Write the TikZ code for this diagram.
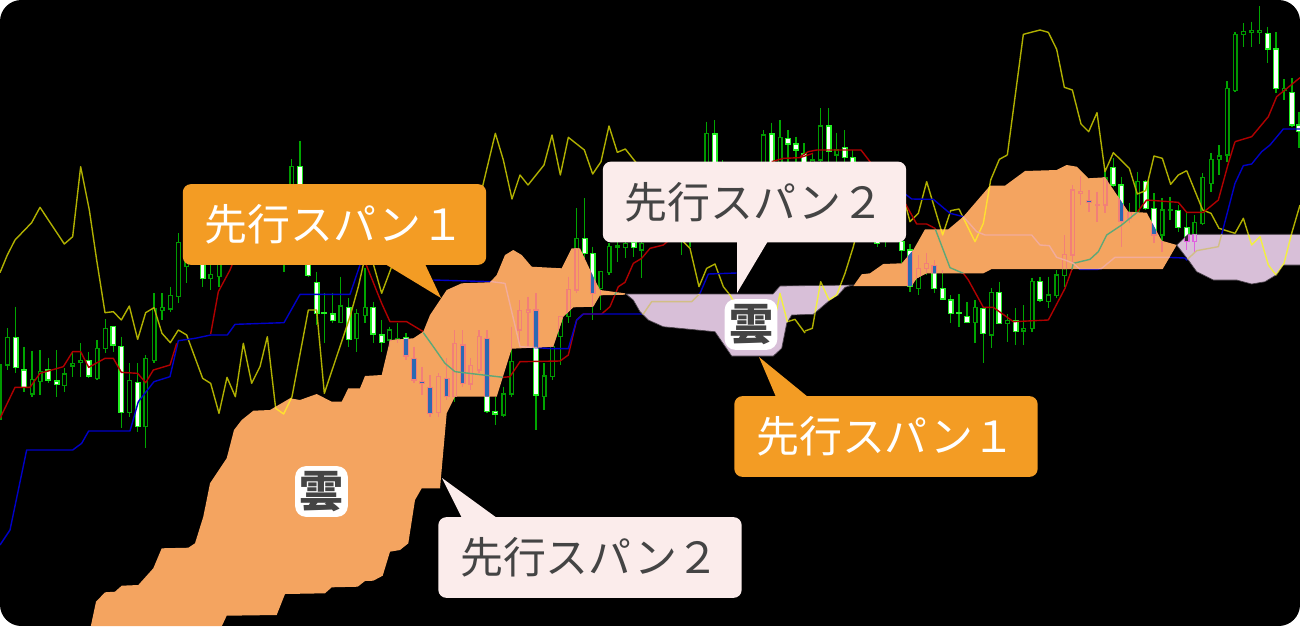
\documentclass[tikz,border=0pt]{standalone}
\usepackage{fontspec}
\newfontfamily\jp{Noto Sans CJK JP}
\definecolor{cloudO}{HTML}{F4A460}
\definecolor{cloudL}{HTML}{D8BFD8}
\definecolor{labO}{HTML}{F39C24}
\definecolor{labP}{HTML}{FBECEB}
\definecolor{ink}{HTML}{444444}
\colorlet{cWick}{green!65!black}
\colorlet{cHol}{green!60!black}
\colorlet{cHolF}{black}
\definecolor{cWhiO}{HTML}{22EE22}
\colorlet{cWhiF}{white}
\definecolor{cRed}{HTML}{B00000}
\definecolor{cBlue}{HTML}{0000C8}
\definecolor{cYel}{HTML}{B0B000}
\newcommand\hc[5]{\draw[cWick,line width=1pt] (#1,#2)--(#1,#5);\draw[cHol,fill=cHolF,line width=1pt] (#1-5.5,#3) rectangle (#1+5.5,#4);}
\newcommand\wc[5]{\draw[cWick,line width=1pt] (#1,#2)--(#1,#5);\draw[cWhiO,fill=cWhiF,line width=.9pt] (#1-7,#3) rectangle (#1+7,#4);}
\tikzset{
 zA/.style={shift={(0,130)},x=.25pt,y=-.25pt},
 zB/.style={shift={(380,120)},x=.25pt,y=-.25pt},
 zC/.style={shift={(800,100)},x=.25pt,y=-.25pt},
 zD/.style={shift={(1000,0)},x=.25pt,y=-.25pt},
 yl/.style={cYel,line width=1.05pt,line join=round},
 rl/.style={cRed,line width=1.05pt,line join=round},
 bl/.style={cBlue,line width=1.05pt,line join=round},
 calloutO/.style={fill=labO,rounded corners=6pt,text=white,minimum width=227.5pt,minimum height=60.5pt,inner sep=0pt,font=\jp\fontsize{32.2}{32.2}\selectfont},
 calloutP/.style={fill=labP,rounded corners=6pt,text=ink,minimum width=227.5pt,minimum height=60.5pt,inner sep=0pt,font=\jp\fontsize{32.2}{32.2}\selectfont},
 kumo/.style={fill=white,rounded corners=8pt,text=ink,minimum width=39.5pt,minimum height=38pt,inner sep=0pt,font=\jp\bfseries\fontsize{33}{33}\selectfont},
}
\newcommand\orangeshape{(90,630)--(96,601.7)--(105,592.3)--(115,591.7)--(121.7,585.7)--(138.3,585)--(153.3,568.3)--(161.7,548.3)--(188.3,547.7)--(195,543.3)--(203.3,516.7)--(210,483.3)--(226.7,458.3)--(234,430)--(241.7,420)--(253.3,410.7)--(270,410)--(290,398.3)--(300,400)--(316.7,394)--(331.7,401.7)--(341.7,401.7)--(348.3,388.3)--(360,388.3)--(365,376)--(381.7,375)--(390,340)--(413.3,338.3)--(423.3,331.7)--(430,315)--(446.7,290)--(461.7,283.3)--(490,282.3)--(496.7,275)--(505,255)--(513.3,250)--(521.7,255)--(531.7,266.7)--(561.7,268.3)--(571.7,248.3)--(580,248.3)--(593.3,276.7)--(600,290)--(625,293.3)--(625,294.7)--(600,295.3)--(593.3,306.7)--(573.3,307.3)--(563.3,316.7)--(553.3,346.7)--(511.7,348.7)--(496.7,396.7)--(455,396.7)--(446.7,413.3)--(440,488.3)--(421.7,488.3)--(415,500)--(408.3,543.3)--(400,550)--(390,551.7)--(382.7,575.7)--(373.3,580.7)--(365,581)--(357.7,586.7)--(331.7,587.3)--(325,593.3)--(285,594)--(276.7,615)--(226.7,615.7)--(220,630)--cycle
(853.3,286)--(861.7,274.3)--(870,273.3)--(883.3,264)--(901.7,263.3)--(913.3,250)--(925,229.3)--(948.3,229.3)--(963.3,216.7)--(990,185.7)--(1005,185.7)--(1025,171)--(1056.7,170)--(1066.7,165)--(1076.7,166.7)--(1088.3,178.3)--(1105,177.3)--(1128.3,211.7)--(1146.7,212.7)--(1161.7,240.7)--(1176.7,245)--(1162.7,269)--(991.7,269)--(983.3,273.3)--(926.7,273.3)--(916.7,278.3)--(911.7,286)--cycle}
\newcommand\lavshape{(626,294)--(773,294)--(780,286)--(853,285)--(845,287.3)--(838.3,295)--(830,300)--(813.3,314.3)--(791.7,315)--(786.7,323.3)--(781.7,348.3)--(773.3,356)--(731.7,356)--(715,331.7)--(663.3,326.7)--(648.3,320)--(640,311.7)--(633.3,300)--cycle
(1176.7,245)--(1188.3,234.3)--(1310,234.3)--(1310,265)--(1283.3,265)--(1276,275)--(1265,281.7)--(1251.7,284)--(1236.7,280)--(1213.3,280)--(1196.7,271.7)--(1188.3,260)--cycle}
\newcommand\candles{%
\begin{scope}[zA]
\hc{-2}{680}{705}{868}{880}\hc{22}{595}{622}{705}{720}\wc{47}{530}{622}{712}{730}\wc{72}{650}{720}{772}{785}\hc{96}{662}{748}{792}{800}\hc{120}{660}{724}{755}{795}\wc{145}{683}{720}{750}{760}\wc{170}{660}{753}{763}{800}\hc{193}{715}{732}{766}{785}\hc{218}{670}{700}{708}{740}\hc{242}{640}{692}{698}{740}\wc{266}{665}{692}{738}{745}\hc{291}{630}{655}{745}{750}\hc{316}{568}{595}{655}{670}\wc{340}{590}{590}{645}{665}\wc{364}{620}{650}{848}{895}\hc{388}{700}{752}{848}{860}\wc{413}{700}{757}{890}{905}\hc{437}{675}{685}{890}{955}\hc{462}{490}{535}{692}{700}\hc{486}{490}{533}{542}{570}\hc{511}{470}{497}{537}{545}\hc{535}{310}{337}{500}{520}\hc{560}{345}{360}{410}{460}\wc{608}{300}{320}{445}{470}\hc{632}{300}{433}{445}{480}\hc{657}{300}{340}{440}{470}\hc{875}{88}{110}{300}{320}\wc{900}{32}{110}{300}{320}\hc{852}{300}{320}{380}{425}\wc{925}{300}{320}{437}{440}\wc{950}{425}{457}{550}{585}\wc{973}{490}{547}{550}{640}\wc{998}{490}{552}{572}{580}\hc{1022}{440}{528}{578}{580}\wc{1046}{505}{532}{628}{650}\hc{1070}{538}{550}{625}{665}\hc{1095}{415}{532}{557}{580}\wc{1120}{515}{532}{612}{640}\wc{1145}{570}{615}{637}{665}\hc{1168}{590}{600}{630}{650}\hc{1192}{580}{625}{628}{640}
\end{scope}
\begin{scope}[zB]
\wc{78}{640}{652}{708}{720}\wc{102}{680}{715}{780}{790}\wc{126}{740}{785}{791}{825}\wc{150}{765}{803}{880}{890}\hc{175}{760}{770}{878}{890}\wc{200}{715}{775}{830}{840}\hc{224}{630}{670}{830}{845}\wc{248}{630}{675}{790}{800}\hc{272}{715}{737}{792}{810}\hc{297}{630}{650}{750}{760}\wc{321}{630}{655}{875}{880}\wc{346}{830}{875}{882}{915}\hc{371}{800}{822}{885}{890}\hc{395}{620}{725}{822}{830}\hc{419}{540}{572}{630}{670}\hc{444}{530}{570}{578}{680}\wc{468}{520}{570}{825}{930}\hc{492}{730}{768}{830}{870}\hc{517}{680}{680}{770}{780}\hc{541}{590}{590}{650}{735}\hc{566}{470}{508}{590}{610}\hc{590}{265}{355}{510}{520}\wc{614}{235}{355}{400}{420}\wc{638}{380}{400}{520}{600}\hc{662}{455}{455}{505}{570}\hc{687}{370}{380}{458}{465}\hc{712}{340}{378}{382}{425}\hc{736}{340}{370}{382}{415}\wc{761}{340}{368}{382}{410}\hc{785}{340}{370}{390}{475}\hc{905}{340}{345}{352}{405}\hc{930}{340}{345}{352}{380}\hc{980}{5}{40}{200}{220}\wc{1004}{0}{42}{200}{220}\hc{1028}{120}{160}{200}{220}\hc{1150}{30}{45}{200}{220}\wc{1175}{8}{42}{200}{220}\hc{1200}{0}{52}{200}{220}\wc{1224}{30}{55}{72}{200}\wc{1248}{50}{72}{90}{200}
\end{scope}
\begin{scope}[zC]
\wc{12}{130}{160}{190}{220}\hc{37}{160}{180}{200}{220}\hc{61}{25}{78}{180}{200}\wc{86}{25}{78}{155}{200}\hc{110}{98}{150}{165}{200}\wc{134}{90}{142}{172}{200}\wc{158}{150}{172}{200}{220}\wc{232}{400}{410}{430}{440}\hc{256}{400}{410}{420}{440}\wc{305}{380}{425}{452}{490}\wc{330}{432}{450}{560}{575}\hc{355}{465}{505}{565}{585}\hc{379}{460}{490}{505}{525}\wc{403}{480}{497}{565}{580}\wc{428}{510}{565}{597}{600}\wc{452}{585}{600}{640}{670}\wc{477}{582}{637}{640}{680}\wc{501}{607}{650}{667}{670}\hc{525}{600}{622}{668}{730}\wc{550}{622}{625}{700}{790}\hc{574}{565}{578}{705}{745}\wc{598}{545}{578}{670}{672}\hc{622}{643}{662}{670}{725}\wc{647}{625}{663}{695}{735}\hc{671}{615}{685}{693}{735}\hc{696}{535}{545}{685}{695}\wc{720}{530}{545}{600}{605}\hc{745}{530}{585}{605}{625}\hc{770}{510}{525}{587}{595}\hc{793}{405}{463}{527}{560}\hc{818}{255}{270}{465}{510}\hc{842}{228}{275}{280}{315}\wc{867}{270}{302}{308}{335}\hc{891}{275}{313}{316}{365}\hc{915}{205}{232}{315}{340}\wc{940}{175}{203}{255}{260}\wc{964}{230}{255}{365}{440}\hc{989}{310}{338}{355}{370}\hc{1013}{215}{245}{335}{340}\wc{1037}{240}{245}{325}{330}\wc{1062}{280}{325}{405}{430}\hc{1086}{295}{330}{405}{455}\hc{1110}{290}{328}{332}{360}\wc{1135}{315}{332}{383}{395}\wc{1160}{335}{382}{425}{450}\hc{1184}{345}{367}{425}{460}\hc{1208}{220}{232}{370}{375}\hc{1233}{160}{178}{250}{275}\hc{1257}{135}{168}{178}{225}
\end{scope}
\begin{scope}[zD]
\hc{681}{243}{265}{465}{485}\hc{705}{97}{103}{272}{275}\hc{730}{70}{95}{103}{140}\hc{755}{65}{92}{98}{140}\hc{779}{18}{92}{97}{133}\wc{803}{80}{100}{147}{190}\wc{828}{97}{147}{265}{280}\hc{852}{237}{265}{272}{300}\wc{876}{235}{278}{375}{380}\wc{897}{335}{375}{395}{445}
\end{scope}}
\newcommand\tracelines{%
\begin{scope}[zA]
\draw[yl] (0,428)--(22,375)--(45,330)--(95,278)--(120,232)--(193,342)--(218,320)--(242,110)--(268,240)--(290,390)--(315,548)--(340,545)--(364,570)--(388,528)--(413,628)--(437,548)--(462,533)--(486,610)--(511,638)--(535,600)--(560,615)--(608,745)--(632,760)--(657,850)--(681,742)--(706,800)--(730,640)--(755,760)--(780,710)--(802,620)--(827,835)--(851,852)--(876,800)--(925,540)--(950,540)--(973,790)--(1050,560)--(1075,470)--(1092,395);
\draw[yl] (1118,395)--(1145,490)--(1175,410);
\draw[bl] (0,1245)--(30,1200)--(80,960)--(218,960)--(245,940)--(266,903)--(390,903)--(415,815)--(462,755)--(510,740)--(535,632)--(585,625)--(632,615)--(682,615)--(705,583)--(852,578)--(900,493)--(1050,493)--(1085,390);
\draw[rl] (0,865)--(45,772)--(90,772)--(120,730)--(190,710)--(218,665)--(242,665)--(266,712)--(315,685)--(340,685)--(364,727)--(413,730)--(437,758)--(460,720)--(510,705)--(530,640);
\draw[rl] (632,612)--(655,485)--(690,420)--(700,395);
\draw[rl] (1095,395)--(1145,520)--(1170,575)--(1220,575)--(1270,605);
\end{scope}
\begin{scope}[zB]
\draw[yl] (300,230)--(310,190)--(346,40)--(370,120)--(396,237)--(420,165)--(444,195)--(492,135)--(516,45)--(541,165)--(565,52)--(613,90)--(638,162)--(663,125)--(687,18)--(712,97)--(736,87)--(770,130);
\draw[yl] (900,355)--(930,385)--(957,500)--(980,445)--(1005,432)--(1030,500)--(1050,525)--(1080,580);
\draw[yl] (1180,590)--(1190,570)--(1200,520)--(1222,605)--(1245,598)--(1270,632)--(1275,639);
\draw[rl] (130,638)--(160,680)--(195,730)--(225,755)--(370,772)--(390,770)--(420,725)--(540,723)--(565,705)--(590,600)--(610,582)--(665,582)--(690,560)--(715,500)--(735,487)--(760,430)--(785,415)--(810,385)--(850,375)--(880,350);
\draw[rl] (1175,125)--(1210,115)--(1260,113)--(1299,100);
\draw[bl] (160,480)--(335,485)--(375,490)--(420,680)--(520,686)--(565,686)--(590,600)--(610,582)--(790,582)--(815,545)--(935,545)--(960,520)--(985,462)--(1070,459);
\end{scope}
\begin{scope}[zC]
\draw[yl] (15,693)--(37,685)--(62,545)--(87,600)--(110,585)--(135,520)--(160,440)--(170,400);
\draw[yl] (310,290)--(330,365)--(355,340)--(380,245)--(428,405)--(452,332)--(477,327)--(525,425)--(550,370)--(572,240)--(598,178)--(622,165);
\draw[yl] (1160,212)--(1208,330)--(1233,340)--(1257,385)--(1305,400)--(1330,355)--(1355,435)--(1380,410)--(1405,495)--(1428,525)--(1452,490)--(1475,400)--(1500,315);
\draw[rl] (0,170)--(25,155)--(50,150)--(183,150)--(210,185)--(230,215);
\draw[rl] (310,300)--(350,372)--(380,372)--(405,385)--(450,503)--(490,520)--(505,540)--(550,622)--(580,622)--(640,665)--(745,660)--(795,565)--(815,510)--(820,490)--(870,478)--(895,455)--(920,405)--(965,375)--(1010,338)--(1040,300)--(1135,307)--(1160,337)--(1210,337)--(1255,300)--(1285,190)--(1305,125);
\draw[bl] (300,270)--(335,297)--(400,298)--(450,340)--(490,350)--(530,395)--(555,405)--(695,405)--(720,435)--(748,437)--(770,472)--(795,480)--(820,490)--(840,508)--(893,508)--(905,505)--(945,472)--(1100,472)--(1155,474)--(1160,480)--(1190,452)--(1255,440)--(1265,403)--(1305,250)--(1330,197)--(1355,192)--(1385,155)--(1410,135)--(1450,87)--(1500,87);
\end{scope}
\begin{scope}[zD]
\draw[yl] (22,465)--(70,103)--(120,90)--(145,97)--(170,148)--(193,262)--(217,270)--(243,372)--(266,395)--(291,338)--(315,515)--(340,458)--(388,505)--(412,582)--(437,572)--(462,468)--(487,475)--(512,553)--(535,525)--(560,512);
\draw[rl] (705,425)--(755,410)--(805,350)--(830,290)--(900,233);
\end{scope}}
\begin{document}
\begin{tikzpicture}[x=.75pt,y=-.75pt]
\useasboundingbox (0,0) rectangle (1300,626);
\fill[white] (0,0) rectangle (1300,626);
\begin{scope}
\clip[rounded corners=16pt] (0,0) rectangle (1300,626);
\fill[black] (0,0) rectangle (1300,626);
\candles
\tracelines
% cloud bodies, with the chart seen through them in blended colours
\fill[cloudO] \orangeshape;
\fill[cloudL] \lavshape;
\draw[black!65!cloudL,line width=.5pt] \lavshape;
\begin{scope}
\clip \orangeshape;
\definecolor{cWick}{HTML}{F27F78}
\colorlet{cHol}{cWick}
\colorlet{cHolF}{cloudO}
\colorlet{cWhiO}{cWick}
\definecolor{cWhiF}{HTML}{2A69B3}
\definecolor{cRed}{HTML}{5DA878}
\definecolor{cBlue}{HTML}{F2AC9C}
\definecolor{cYel}{HTML}{FFE030}
\candles
\tracelines
\end{scope}
\begin{scope}
\clip \lavshape;
\definecolor{cWick}{HTML}{E060E0}
\colorlet{cHol}{cWick}
\colorlet{cHolF}{cloudL}
\colorlet{cWhiO}{cWick}
\definecolor{cWhiF}{HTML}{3A2A3A}
\definecolor{cBlue}{HTML}{D2BE85}
\definecolor{cYel}{HTML}{F2F040}
\candles
\tracelines
\end{scope}
\end{scope}
% callout tails
\fill[labO] (385,264)--(441,298)--(425,264)--cycle;
\fill[labP] (737,241)--(737,293)--(768,241)--cycle;
\fill[labO] (776,397)--(759,357)--(808,397)--cycle;
\fill[labP] (462,518)--(442,478)--(497,518)--cycle;
% callouts
\node[calloutO] (spanA) at (334.5,224.5) {先行スパン１};
\node[calloutP] (spanB) at (754.5,202) {先行スパン２};
\node[calloutO] (spanC) at (886,436.5) {先行スパン１};
\node[calloutP] (spanD) at (590,557.5) {先行スパン２};
\node[kumo] (kumoA) at (321.5,491.5) {雲};
\node[kumo] (kumoB) at (751,324.5) {雲};
\end{tikzpicture}
\end{document}
